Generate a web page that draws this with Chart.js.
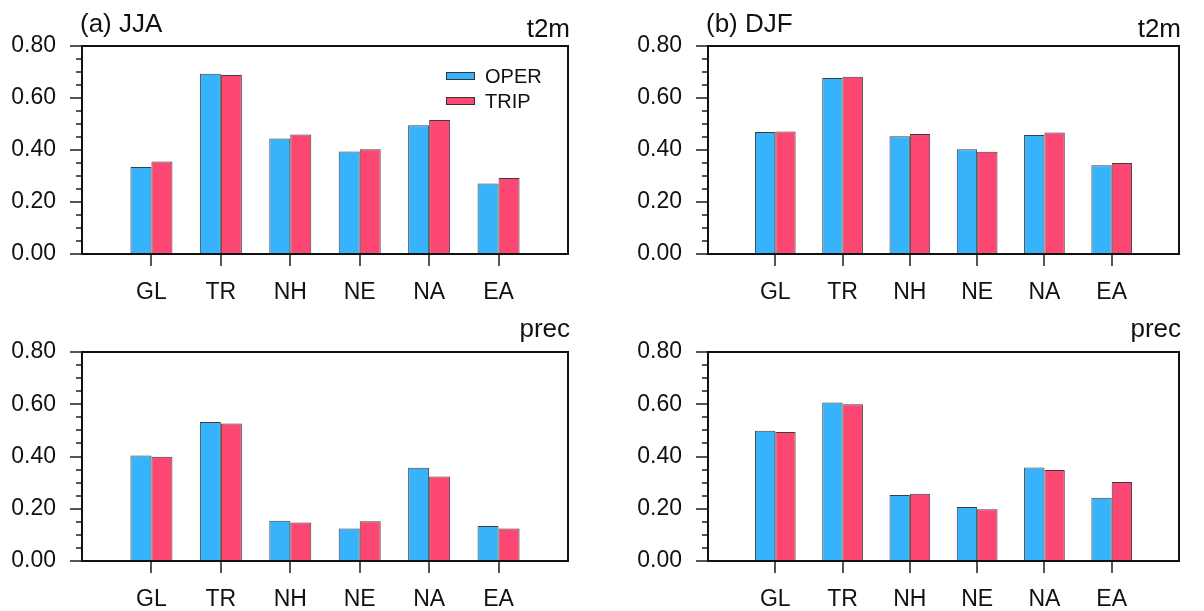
<!DOCTYPE html>
<html>
<head>
<meta charset="utf-8">
<script src="https://cdn.jsdelivr.net/npm/chart.js@4.4.1/dist/chart.umd.min.js"></script>
<style>
  html, body { margin: 0; padding: 0; background: #fff; }
  #wrap { position: relative; width: 1204px; height: 611px; }
  canvas { position: absolute; }
</style>
</head>
<body>
<div id="wrap">
  <canvas id="panelA" width="602" height="305" style="left:0;top:0;width:602px;height:305px"></canvas>
  <canvas id="panelB" width="602" height="305" style="left:602px;top:0;width:602px;height:305px"></canvas>
  <canvas id="panelC" width="602" height="306" style="left:0;top:305px;width:602px;height:306px"></canvas>
  <canvas id="panelD" width="602" height="306" style="left:602px;top:305px;width:602px;height:306px"></canvas>
</div>
<script>
const regions = ["GL", "TR", "NH", "NE", "NA", "EA"];
const seriesNames = ["OPER", "TRIP"];
const yTicks = [0, 0.2, 0.4, 0.6, 0.8];

// (a) JJA
const jjaT2mOper = [0.335, 0.693, 0.444, 0.394, 0.495, 0.271];
const jjaT2mTrip = [0.356, 0.688, 0.460, 0.403, 0.515, 0.292];
const jjaPrecOper = [0.404, 0.532, 0.154, 0.124, 0.357, 0.134];
const jjaPrecTrip = [0.399, 0.526, 0.147, 0.152, 0.323, 0.124];

// (b) DJF
const djfT2mOper = [0.469, 0.677, 0.453, 0.403, 0.458, 0.341];
const djfT2mTrip = [0.471, 0.682, 0.462, 0.393, 0.467, 0.350];
const djfPrecOper = [0.499, 0.607, 0.253, 0.207, 0.358, 0.242];
const djfPrecTrip = [0.494, 0.600, 0.257, 0.198, 0.348, 0.302];

const BLUE = "#37b3fc";
const RED = "#fd4773";
const FONT = "'Liberation Sans', Arial, Helvetica, sans-serif";

// box, tick marks, panel titles and legend, the way NCL draws them
const ncarFrame = {
  id: "ncarFrame",
  afterDraw(chart, args, opts) {
    const { ctx, chartArea: a } = chart;
    const x = chart.scales.x;
    const y = chart.scales.y;
    ctx.save();

    ctx.strokeStyle = "#555";
    ctx.lineWidth = 2;
    for (let i = 0; i <= 16; i++) {
      const py = Math.round(y.getPixelForValue(i * 0.05));
      const len = i % 4 === 0 ? 12 : 6;
      ctx.beginPath();
      ctx.moveTo(a.left - len, py);
      ctx.lineTo(a.left, py);
      ctx.stroke();
    }
    for (let i = 1; i <= regions.length; i++) {
      const px = Math.round(x.getPixelForValue(i));
      ctx.beginPath();
      ctx.moveTo(px, a.bottom);
      ctx.lineTo(px, a.bottom + 12);
      ctx.stroke();
    }

    ctx.strokeStyle = "#111";
    ctx.lineWidth = 2;
    ctx.strokeRect(a.left, a.top, a.right - a.left, a.bottom - a.top);

    ctx.fillStyle = "#111";
    ctx.font = "26px " + FONT;
    ctx.textBaseline = "alphabetic";
    if (opts.left) {
      ctx.textAlign = "left";
      ctx.fillText(opts.left, a.left - 2, opts.leftY);
    }
    if (opts.right) {
      ctx.textAlign = "right";
      ctx.fillText(opts.right, a.right + 2, opts.rightY);
    }

    if (opts.legend) {
      const colors = [BLUE, RED];
      ctx.font = "20px " + FONT;
      ctx.textAlign = "left";
      ctx.textBaseline = "middle";
      seriesNames.forEach((name, i) => {
        const bx = a.right - 122;
        const by = a.top + 26 + i * 25;
        ctx.fillStyle = colors[i];
        ctx.fillRect(bx, by, 29, 8);
        ctx.strokeStyle = "#333";
        ctx.lineWidth = 1;
        ctx.strokeRect(bx + 0.5, by + 0.5, 28, 7);
        ctx.fillStyle = "#111";
        ctx.fillText(name, a.right - 83, by + 5);
      });
    }
    ctx.restore();
  }
};

function makePanel(id, oper, trip, frame, pad, yWidth, xHeight) {
  const labels = ["", ...regions, ""];
  const padData = vals => [null, ...vals, null];

  return new Chart(document.getElementById(id), {
    type: "bar",
    data: {
      labels: labels,
      datasets: [
        { label: seriesNames[0], data: padData(oper), backgroundColor: BLUE,
          borderColor: "rgba(40,40,40,0.9)", borderWidth: 1 },
        { label: seriesNames[1], data: padData(trip), backgroundColor: RED,
          borderColor: "rgba(40,40,40,0.9)", borderWidth: 1 }
      ]
    },
    options: {
      responsive: false,
      animation: false,
      layout: { padding: pad },
      datasets: { bar: { categoryPercentage: 0.605, barPercentage: 1.0 } },
      plugins: {
        legend: { display: false },
        tooltip: { enabled: false },
        ncarFrame: frame
      },
      scales: {
        x: {
          offset: false,
          grid: { display: false, drawTicks: false },
          border: { display: false },
          ticks: {
            autoSkip: false, maxRotation: 0, padding: 25,
            color: "#111", font: { family: FONT, size: 23 }
          },
          afterFit: s => { s.height = xHeight; }
        },
        y: {
          min: 0, max: 0.8,
          grid: { display: false, drawTicks: false },
          border: { display: false },
          afterBuildTicks: s => { s.ticks = yTicks.map(v => ({ value: v })); },
          ticks: {
            padding: 26, color: "#111",
            font: { family: FONT, size: 23 },
            callback: v => Number(v).toFixed(2)
          },
          afterFit: s => { s.width = yWidth; }
        }
      }
    },
    plugins: [ncarFrame]
  });
}

makePanel("panelA", jjaT2mOper, jjaT2mTrip,
  { left: "(a) JJA", leftY: 32, right: "t2m", rightY: 37, legend: true },
  { left: 0, top: 46, right: 34, bottom: 0 }, 82, 51);

makePanel("panelB", djfT2mOper, djfT2mTrip,
  { left: "(b) DJF", leftY: 32, right: "t2m", rightY: 37 },
  { left: 0, top: 46, right: 11, bottom: 0 }, 106, 51);

makePanel("panelC", jjaPrecOper, jjaPrecTrip,
  { right: "prec", rightY: 32 },
  { left: 0, top: 47, right: 34, bottom: 0 }, 82, 50);

makePanel("panelD", djfPrecOper, djfPrecTrip,
  { right: "prec", rightY: 32 },
  { left: 0, top: 47, right: 11, bottom: 0 }, 106, 50);
</script>
</body>
</html>
